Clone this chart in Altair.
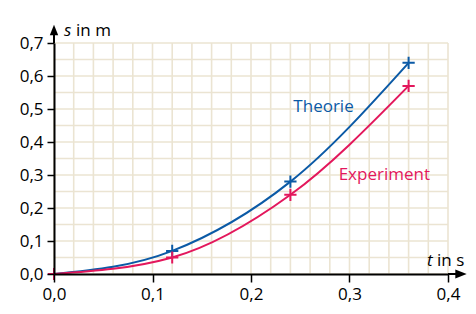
import altair as alt
import pandas as pd
import numpy as np

# data
t_vals = [0.0, 0.12, 0.24, 0.36]
s_theorie = [0.0, 0.07, 0.28, 0.64]
s_experiment = [0.0, 0.05, 0.24, 0.57]

x_ticks = [0.0, 0.1, 0.2, 0.3, 0.4]
y_ticks = [0.0, 0.1, 0.2, 0.3, 0.4, 0.5, 0.6, 0.7]
x_grid = [round(v, 2) for v in np.arange(0.0, 0.4001, 0.02)]
y_grid = [round(v, 2) for v in np.arange(0.0, 0.7001, 0.05)]

BLUE = "#0b5aa6"
RED = "#e3175c"
GRID = "#ebe4d2"
FONT = "Open Sans"
FS = 17

df = pd.DataFrame({
    "t": t_vals * 2,
    "s": s_theorie + s_experiment,
    "serie": ["Theorie"] * 4 + ["Experiment"] * 4,
})
labels = pd.DataFrame({
    "t": [0.243, 0.289],
    "s": [0.491, 0.285],
    "text": ["Theorie", "Experiment"],
    "serie": ["Theorie", "Experiment"],
})

xs = alt.Scale(domain=[0, 0.4], nice=False, zero=False)
ys = alt.Scale(domain=[0, 0.7], nice=False, zero=False)
color = alt.Scale(domain=["Theorie", "Experiment"], range=[BLUE, RED])

fmt = "replace(format(datum.value, '.1f'), '.', ',')"
common = dict(labelExpr=fmt, title=None, grid=False, domainColor="black", domainWidth=2,
              tickColor="black", tickWidth=1.5, labelFontSize=FS, labelFont=FONT,
              labelColor="black", zindex=1, labelFlush=False, labelOverlap=False)
XA = alt.Axis(values=x_ticks, tickSize=8, labelPadding=4, **common)
YA = alt.Axis(values=y_ticks, tickSize=7, labelPadding=4, **common)

gx = alt.Chart(pd.DataFrame({"g": x_grid})).mark_rule(color=GRID, strokeWidth=1.6).encode(
    x=alt.X("g:Q", scale=xs, axis=XA),
)
gy = alt.Chart(pd.DataFrame({"g": y_grid})).mark_rule(color=GRID, strokeWidth=1.6).encode(
    y=alt.Y("g:Q", scale=ys, axis=YA),
)

lines = alt.Chart(df).mark_line(interpolate="monotone", strokeWidth=2).encode(
    x=alt.X("t:Q", scale=xs, axis=XA),
    y=alt.Y("s:Q", scale=ys, axis=YA),
    color=alt.Color("serie:N", scale=color, legend=None),
)
plus = "M-1,0L1,0M0,-1L0,1"
points = alt.Chart(df).mark_point(shape=plus, size=150, strokeWidth=2, filled=False, opacity=1).encode(
    x=alt.X("t:Q", scale=xs, axis=XA),
    y=alt.Y("s:Q", scale=ys, axis=YA),
    color=alt.Color("serie:N", scale=color, legend=None),
)
texts = alt.Chart(labels).mark_text(align="left", baseline="alphabetic", font=FONT, fontSize=FS).encode(
    x=alt.X("t:Q", scale=xs, axis=XA),
    y=alt.Y("s:Q", scale=ys, axis=YA),
    text="text:N",
    color=alt.Color("serie:N", scale=color, legend=None),
)

# axis arrows and titles
ext_y = alt.Chart(pd.DataFrame({"a": [0]})).mark_rule(color="black", strokeWidth=2).encode(
    x=alt.value(0), y=alt.value(-9), y2=alt.value(0))
arr_y = alt.Chart(pd.DataFrame({"a": [0]})).mark_point(
    shape="M-0.8,1L0,-1L0.8,1Z", filled=True, color="black", opacity=1, size=110).encode(
    x=alt.value(0), y=alt.value(-13))
ext_x = alt.Chart(pd.DataFrame({"a": [0]})).mark_rule(color="black", strokeWidth=2).encode(
    x=alt.value(394), x2=alt.value(403), y=alt.value(231))
arr_x = alt.Chart(pd.DataFrame({"a": [0]})).mark_point(
    shape="M-1,-0.8L1,0L-1,0.8Z", filled=True, color="black", opacity=1, size=130).encode(
    x=alt.value(407), y=alt.value(231))

def txt(s, x, y, italic=False):
    return alt.Chart(pd.DataFrame({"a": [0]})).mark_text(
        text=s, align="left", baseline="alphabetic", font=FONT, fontSize=FS,
        fontStyle="italic" if italic else "normal", color="black").encode(
        x=alt.value(x), y=alt.value(y))

titles = [txt("s", 10, -7, True), txt("in m", 22, -7), txt("t", 373, 223, True), txt("in s", 383, 223)]

chart = alt.layer(gx, gy, lines, points, texts, ext_y, arr_y, ext_x, arr_x, *titles).properties(
    width=394, height=231,
    padding={"left": 46, "top": 35, "right": 20, "bottom": 32},
    autosize=alt.AutoSizeParams(type="none"),
).configure_view(stroke=None)

chart.save("out.html", embed_options={"renderer": "svg", "actions": False})
